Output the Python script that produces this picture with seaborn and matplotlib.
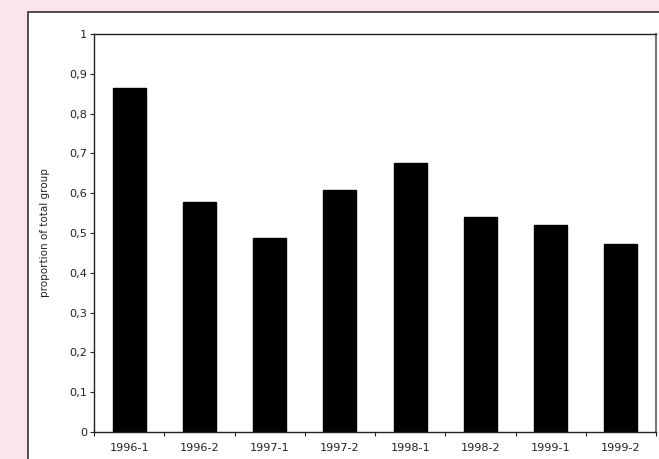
import matplotlib
matplotlib.use("Agg")

import matplotlib.pyplot as plt
import matplotlib.patches as mpatches
import numpy as np
import pandas as pd
import seaborn as sns

# data
periods = ["1996-1", "1996-2", "1997-1", "1997-2", "1998-1", "1998-2", "1999-1", "1999-2"]
proportion = [0.865, 0.578, 0.487, 0.607, 0.675, 0.541, 0.521, 0.473]
y_ticks = [0, 0.1, 0.2, 0.3, 0.4, 0.5, 0.6, 0.7, 0.8, 0.9, 1]
y_labels = ["0", "0,1", "0,2", "0,3", "0,4", "0,5", "0,6", "0,7", "0,8", "0,9", "1"]

PINK = "#fce4ec"
FG = "#222222"

sns.set_style("white")
plt.rcParams["font.family"] = ["DejaVu Sans"]

W, H = 659, 459
fig = plt.figure(figsize=(W / 100, H / 100), dpi=100, facecolor=PINK)

# white framed panel, running off the right and bottom edge
panel = mpatches.Rectangle((28 / W, -0.05), 1.0, 1 - 12 / H + 0.05,
                           transform=fig.transFigure, facecolor="white",
                           edgecolor="#333333", linewidth=1.2, zorder=-5)
fig.patches.append(panel)

ax = fig.add_axes([94 / W, 1 - 432 / H, (656 - 94) / W, (432 - 34) / H])
ax.set_zorder(2)
ax.set_facecolor("white")

df = pd.DataFrame({"period": periods, "proportion": proportion})
sns.barplot(data=df, x="period", y="proportion", color="black", width=0.47,
            saturation=1, edgecolor="black", ax=ax)

ax.set_xlim(-0.5, len(periods) - 0.5)
ax.set_ylim(0, 1)
ax.set_yticks(y_ticks)
ax.set_yticklabels(y_labels)
ax.set_xticks(np.arange(len(periods)))
ax.set_xticklabels(periods)
ax.set_xticks(np.arange(len(periods) + 1) - 0.5, minor=True)

ax.tick_params(axis="x", which="major", bottom=True, length=0, pad=8,
               labelsize=8.1, colors=FG)
ax.tick_params(axis="x", which="minor", bottom=True, length=3, direction="out",
               width=0.8, color=FG)
ax.tick_params(axis="y", left=True, length=3, direction="out", width=0.8, pad=2,
               labelsize=8.1, colors=FG)

ax.set_xlabel("")
ax.set_ylabel("proportion of total group", fontsize=7.5, color=FG, labelpad=14)

for side in ["left", "bottom", "top"]:
    ax.spines[side].set_color("#222222")
    ax.spines[side].set_linewidth(1.0)
ax.spines["right"].set_color("#777777")
ax.spines["right"].set_linewidth(1.5)

fig.savefig("out.png", dpi=100, facecolor=PINK)
